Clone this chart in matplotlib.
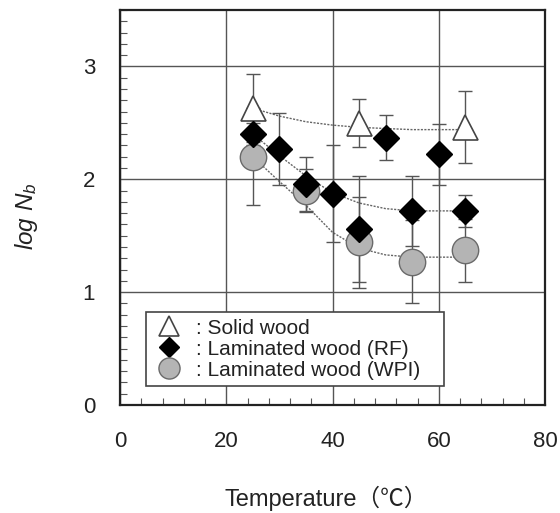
import numpy as np
import matplotlib
matplotlib.use("Agg")
import matplotlib.pyplot as plt
from matplotlib.ticker import MultipleLocator

plt.rcParams['font.family'] = ['Liberation Sans', 'Noto Sans CJK JP', 'DejaVu Sans']
plt.rcParams['mathtext.fontset'] = 'custom'
plt.rcParams['mathtext.it'] = 'Liberation Sans:italic'
plt.rcParams['mathtext.rm'] = 'Liberation Sans'

# ---- data ----
solid_T = [25, 45, 65]
solid_y = [2.63, 2.50, 2.46]
solid_err = [0.30, 0.21, 0.32]

rf_T = [25, 30, 35, 40, 45, 50, 55, 60, 65]
rf_y = [2.40, 2.27, 1.96, 1.87, 1.56, 2.37, 1.72, 2.22, 1.72]
rf_err = [0.10, 0.32, 0.24, 0.43, 0.47, 0.20, 0.31, 0.27, 0.14]

wpi_T = [25, 35, 45, 55, 65]
wpi_y = [2.20, 1.90, 1.44, 1.27, 1.37]
wpi_err = [0.43, 0.19, 0.40, 0.37, 0.28]

# dotted trend curves
fit_T = [25, 30, 35, 40, 45, 50, 55, 60, 65]
solid_fit = [2.63, 2.56, 2.51, 2.48, 2.46, 2.45, 2.44, 2.44, 2.44]
rf_fit = [2.40, 2.21, 2.03, 1.88, 1.79, 1.74, 1.72, 1.72, 1.72]
wpi_fit = [2.20, 1.98, 1.77, 1.53, 1.39, 1.33, 1.31, 1.31, 1.31]

fig = plt.figure(figsize=(5.6, 5.13), dpi=100)
ax = fig.add_axes([120 / 560, 1 - 405 / 513, 425 / 560, 395 / 513])

line_kw = dict(color='#666666', lw=1.0, ls=(0, (1.5, 1.0)), zorder=2)
ax.plot(fit_T, solid_fit, **line_kw)
ax.plot(fit_T, rf_fit, **line_kw)
ax.plot(fit_T, wpi_fit, **line_kw)

err_kw = dict(ecolor='#555555', elinewidth=1.0, capsize=5, capthick=1.0, ls='none')
ax.errorbar(solid_T, solid_y, yerr=solid_err, zorder=3, **err_kw)
ax.errorbar(rf_T, rf_y, yerr=rf_err, zorder=3, **err_kw)
ax.errorbar(wpi_T, wpi_y, yerr=wpi_err, zorder=3, **err_kw)

ax.plot(solid_T, solid_y, ls='none', marker='^', ms=18, mfc='white', mec='#444444',
        mew=1.2, zorder=5, label=': Solid wood')
ax.plot(rf_T, rf_y, ls='none', marker='D', ms=13, mfc='black', mec='black',
        mew=1.0, zorder=5, label=': Laminated wood (RF)')
ax.plot(wpi_T, wpi_y, ls='none', marker='o', ms=19, mfc='#b4b4b4', mec='#6a6a6a',
        mew=1.0, zorder=4, label=': Laminated wood (WPI)   ')

ax.set_xlim(0, 80)
ax.set_ylim(0, 3.5)
ax.set_xticks([0, 20, 40, 60, 80])
ax.set_yticks([0, 1, 2, 3])
ax.xaxis.set_minor_locator(MultipleLocator(4))
ax.yaxis.set_minor_locator(MultipleLocator(0.1))
ax.tick_params(which='both', direction='in', top=False, right=False)
ax.tick_params(which='major', length=0, labelsize=16, labelcolor='#222222')
ax.tick_params(axis='y', which='major', pad=18)
ax.tick_params(axis='x', which='major', pad=19)
ax.tick_params(which='minor', length=5, width=0.8, color='#555555')
ax.grid(True, which='major', color='#555555', lw=1.0)
ax.set_axisbelow(True)
for s in ax.spines.values():
    s.set_linewidth(1.6)
    s.set_color('#222222')

fig.text(326 / 560, 1 - 498 / 513, 'Temperature（℃）', fontsize=17, color='#222222',
         ha='center', va='center')
fig.text(27 / 560, 1 - 216 / 513, r'$log\ N_b$', fontsize=17.5, color='#222222',
         rotation=90, ha='center', va='center')

leg = ax.legend(loc='lower left', bbox_to_anchor=(0.061, 0.048), fontsize=15,
                frameon=True, fancybox=False, edgecolor='#444444', framealpha=1,
                handletextpad=0.5, borderpad=0.3, labelspacing=0.1,
                borderaxespad=0, handlelength=1.6, markerscale=0.8)
leg.get_frame().set_linewidth(1.2)
leg.set_zorder(6)
for t in leg.get_texts():
    t.set_color('#222222')

fig.savefig('out.png', dpi=100)
